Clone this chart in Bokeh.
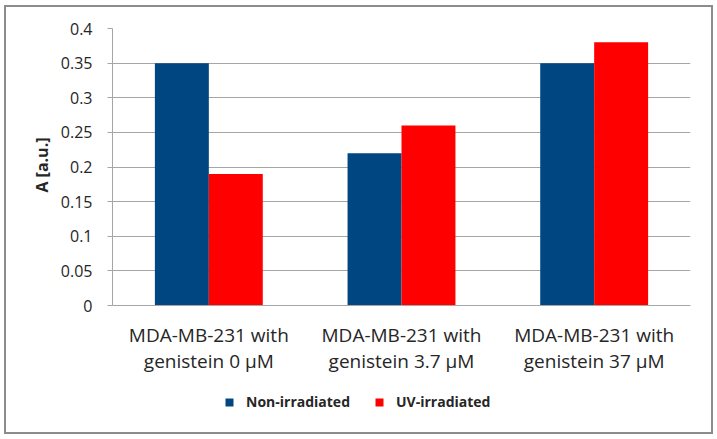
from bokeh.plotting import figure
from bokeh.models import (ColumnDataSource, FactorRange, Range1d, FixedTicker,
                          Legend, LegendItem, Title)
from bokeh.transform import dodge
from bokeh.embed import file_html
from bokeh.resources import INLINE

categories = ["MDA-MB-231 with\ngenistein 0 \u00b5M",
              "MDA-MB-231 with\ngenistein 3.7 \u00b5M",
              "MDA-MB-231 with\ngenistein 37 \u00b5M"]
non_irradiated = [0.35, 0.22, 0.35]
uv_irradiated = [0.19, 0.26, 0.38]
series_names = ["Non-irradiated", "UV-irradiated"]
y_ticks = [0, 0.05, 0.1, 0.15, 0.2, 0.25, 0.3, 0.35, 0.4]
y_label = "A [a.u.]"

BLUE = "#004680"
RED = "#FF0000"
GRID = "#a6a6a6"
TEXT = "#262626"
FONT = "Open Sans"

# layout (pixels): value axis spans PLOT_H px, free space below it for labels/legend
PLOT_H = 277
BELOW_H = 127
Y_MAX = y_ticks[-1]
Y_MIN = -Y_MAX * BELOW_H / PLOT_H

src = ColumnDataSource(dict(cat=categories, non=non_irradiated, uv=uv_irradiated))

p = figure(x_range=FactorRange(*categories, range_padding=0),
           y_range=Range1d(Y_MIN, Y_MAX),
           frame_width=578, frame_height=PLOT_H + BELOW_H,
           min_border_left=106, min_border_right=21,
           min_border_top=21, min_border_bottom=0,
           output_backend="svg", toolbar_location=None)
p.styles = {"border": "2px solid #8c8c8c", "margin-left": "4px",
            "margin-top": "5px"}
p.outline_line_color = None
p.background_fill_color = "white"
p.border_fill_color = "white"

r1 = p.vbar(x=dodge("cat", -0.14, range=p.x_range), top="non", width=0.28,
            source=src, fill_color=BLUE, line_color=None)
r2 = p.vbar(x=dodge("cat", 0.14, range=p.x_range), top="uv", width=0.28,
            source=src, fill_color=RED, line_color=None)

# axes
p.xgrid.grid_line_color = None
p.ygrid.grid_line_color = GRID
p.ygrid.grid_line_width = 1

p.yaxis.ticker = FixedTicker(ticks=y_ticks)
p.yaxis.bounds = (0, Y_MAX)
p.yaxis.major_label_overrides = {t: f"{t:g}" for t in y_ticks}
p.yaxis.axis_line_color = GRID
p.yaxis.major_tick_line_color = GRID
p.yaxis.major_tick_out = 5
p.yaxis.major_tick_in = 0
p.yaxis.minor_tick_line_color = None
p.yaxis.major_label_standoff = 15
p.yaxis.major_label_text_font = FONT
p.yaxis.major_label_text_font_size = "16px"
p.yaxis.major_label_text_color = TEXT

# y-axis title, centred on the 0..0.4 part of the axis
ytitle = Title(text=y_label, align="right", offset=109, standoff=10,
               vertical_align="bottom", text_font=FONT, text_font_size="16px",
               text_font_style="bold", text_color=TEXT)
p.add_layout(ytitle, "left")

p.xaxis.fixed_location = 0
p.xaxis.axis_line_color = GRID
p.xaxis.major_tick_line_color = None
p.xaxis.minor_tick_line_color = None
p.xaxis.major_tick_out = 0
p.xaxis.major_label_standoff = 16
p.xaxis.major_label_text_font = FONT
p.xaxis.major_label_text_font_size = "19px"
p.xaxis.major_label_text_color = TEXT
p.xaxis.major_label_text_line_height = 1.0

legend = Legend(items=[LegendItem(label=series_names[0], renderers=[r1]),
                       LegendItem(label=series_names[1], renderers=[r2])],
                orientation="horizontal", location=(112, 21))
legend.border_line_color = None
legend.background_fill_alpha = 0
legend.glyph_width = 10
legend.glyph_height = 10
legend.label_standoff = 12
legend.spacing = 24
legend.padding = 3
legend.margin = 0
legend.label_text_font = FONT
legend.label_text_font_style = "bold"
legend.label_text_font_size = "14px"
legend.label_text_color = TEXT
p.add_layout(legend, "center")

open("out.html", "w").write(file_html(p, INLINE))
